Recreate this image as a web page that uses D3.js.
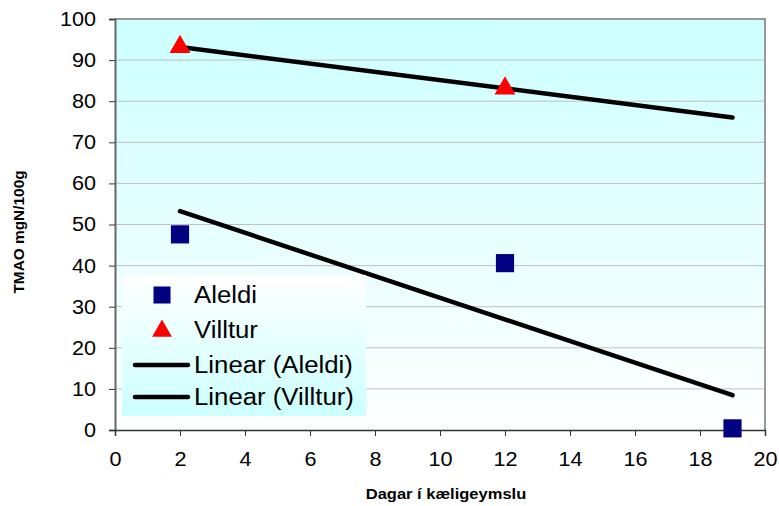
<!DOCTYPE html>
<html>
<head>
<meta charset="utf-8">
<script src="https://cdn.jsdelivr.net/npm/d3@7"></script>
<style>
  body { margin: 0; background: #fff; }
  svg { display: block; font-family: Arial, "Liberation Sans", sans-serif; }
</style>
</head>
<body>
<svg id="chart" width="779" height="506"></svg>
<script>
// series data
var aleldiDays = [2, 12, 19]
var aleldiValues = [47.6, 40.6, 0.4]
var villturDays = [2, 12]
var villturValues = [93.2, 83.1]
var xTicks = [0, 2, 4, 6, 8, 10, 12, 14, 16, 18, 20]
var yTicks = [0, 10, 20, 30, 40, 50, 60, 70, 80, 90, 100]
var legendNames = ['Aleldi', 'Villtur', 'Linear (Aleldi)', 'Linear (Villtur)']

var margin = { left: 115, right: 14, top: 19, bottom: 76 },
    width = 779 - margin.left - margin.right,
    height = 506 - margin.top - margin.bottom

var svg = d3.select('#chart')

// the source renders its Arial a bit wide, stretch text horizontally
function stretch(sel, k) {
    sel.each(function () {
        var len = this.getComputedTextLength()
        this.setAttribute('textLength', len * k)
        this.setAttribute('lengthAdjust', 'spacingAndGlyphs')
    })
}

var defs = svg.append('defs')
var plotGrad = defs.append('linearGradient').attr('id', 'plotGrad')
    .attr('x1', 0).attr('y1', 0).attr('x2', 0).attr('y2', 1)
plotGrad.append('stop').attr('offset', '0%').attr('stop-color', '#ccffff')
plotGrad.append('stop').attr('offset', '100%').attr('stop-color', '#ffffff')
var legGrad = defs.append('linearGradient').attr('id', 'legGrad')
    .attr('x1', 0).attr('y1', 0).attr('x2', 0).attr('y2', 1)
legGrad.append('stop').attr('offset', '0%').attr('stop-color', '#ffffff')
legGrad.append('stop').attr('offset', '100%').attr('stop-color', '#ccffff')

var g = svg.append('g')
    .attr('transform', 'translate(' + margin.left + ',' + margin.top + ')')

var xScale = d3.scaleLinear().domain([0, 20]).range([0, width])
var yScale = d3.scaleLinear().domain([0, 100]).range([height, 0])

// background
g.append('rect')
    .attr('width', width).attr('height', height)
    .attr('fill', 'url(#plotGrad)')

// gridlines
g.selectAll('.grid')
    .data(yTicks.filter(d => d > 0 && d < 100))
    .enter().append('line')
    .attr('class', 'grid')
    .attr('x1', 0).attr('x2', width)
    .attr('y1', d => yScale(d)).attr('y2', d => yScale(d))
    .attr('stroke', '#c0c0c0').attr('stroke-width', 1)

// frame top / right
g.append('path')
    .attr('d', 'M0,0H' + width + 'V' + height)
    .attr('fill', 'none').attr('stroke', '#999').attr('stroke-width', 2)

// axes
var yAxis = d3.axisLeft(yScale).tickValues(yTicks).tickSize(6).tickPadding(13)
var xAxis = d3.axisBottom(xScale).tickValues(xTicks).tickSize(6).tickPadding(16)

var gy = g.append('g').call(yAxis)
var gx = g.append('g').attr('transform', 'translate(0,' + height + ')').call(xAxis)

gy.select('.domain').attr('stroke', '#666').attr('stroke-width', 2)
gx.select('.domain').attr('stroke', '#333').attr('stroke-width', 1.5)
gy.selectAll('.tick line').attr('stroke', '#333')
gx.selectAll('.tick line').attr('stroke', '#333')
gy.selectAll('.tick text').attr('font-size', 20).attr('fill', '#000')
    .attr('font-family', 'Arial, "Liberation Sans", sans-serif')
gx.selectAll('.tick text').attr('font-size', 20).attr('fill', '#000')
    .attr('font-family', 'Arial, "Liberation Sans", sans-serif')
stretch(gy.selectAll('.tick text'), 1.08)
stretch(gx.selectAll('.tick text'), 1.08)

// linear trendlines (least squares)
function fit(xs, ys) {
    var mx = d3.mean(xs), my = d3.mean(ys)
    var sxy = d3.sum(xs, (x, i) => (x - mx) * (ys[i] - my))
    var sxx = d3.sum(xs, x => (x - mx) * (x - mx))
    var b = sxy / sxx
    return x => my + b * (x - mx)
}
var allDays = aleldiDays.concat(villturDays)
var x0 = d3.min(allDays), x1 = d3.max(allDays)
var fits = [fit(aleldiDays, aleldiValues), fit(villturDays, villturValues)]

var line = d3.line().x(d => xScale(d[0])).y(d => yScale(d[1]))
fits.forEach(function (f) {
    g.append('path')
        .datum([[x0, f(x0)], [x1, f(x1)]])
        .attr('d', line)
        .attr('fill', 'none').attr('stroke', '#000')
        .attr('stroke-width', 4.5).attr('stroke-linecap', 'round')
})

// markers
var square = d3.symbol().type(d3.symbolSquare).size(330)
var triangle = d3.symbol().type(d3.symbolTriangle).size(190)

g.selectAll('.aleldi')
    .data(aleldiDays.map((d, i) => [d, aleldiValues[i]]))
    .enter().append('path')
    .attr('class', 'aleldi')
    .attr('d', square)
    .attr('transform', d => 'translate(' + xScale(d[0]) + ',' + yScale(d[1]) + ')')
    .attr('fill', '#000080')

g.selectAll('.villtur')
    .data(villturDays.map((d, i) => [d, villturValues[i]]))
    .enter().append('path')
    .attr('class', 'villtur')
    .attr('d', triangle)
    .attr('transform', d => 'translate(' + xScale(d[0]) + ',' + yScale(d[1]) + ')')
    .attr('fill', '#ff0000')

// legend
var legend = svg.append('g').attr('transform', 'translate(122,275)')
legend.append('rect')
    .attr('width', 244).attr('height', 141)
    .attr('fill', 'url(#legGrad)')

var rows = legend.selectAll('.row')
    .data(legendNames)
    .enter().append('g')
    .attr('transform', (d, i) => 'translate(0,' + [20, 55, 90, 122][i] + ')')

rows.each(function (d, i) {
    var r = d3.select(this)
    if (i == 0) {
        r.append('path').attr('d', d3.symbol().type(d3.symbolSquare).size(290))
            .attr('transform', 'translate(40,0)').attr('fill', '#000080')
    } else if (i == 1) {
        r.append('path').attr('d', d3.symbol().type(d3.symbolTriangle).size(170))
            .attr('transform', 'translate(40,1)').attr('fill', '#ff0000')
    } else {
        r.append('line').attr('x1', 13).attr('x2', 66).attr('y1', 0).attr('y2', 0)
            .attr('stroke', '#000').attr('stroke-width', 4.5).attr('stroke-linecap', 'round')
    }
    r.append('text').attr('x', 72).attr('y', 8)
        .attr('font-size', 23).text(d)
})
stretch(rows.selectAll('text'), 1.12)

// axis titles
var yTitle = svg.append('text')
    .attr('transform', 'translate(24,232) rotate(-90)')
    .attr('text-anchor', 'middle')
    .attr('font-size', 14).attr('font-weight', 'bold')
    .text('TMAO mgN/100g')

var xTitle = svg.append('text')
    .attr('x', 446).attr('y', 499)
    .attr('text-anchor', 'middle')
    .attr('font-size', 15).attr('font-weight', 'bold')
    .text('Dagar í kæligeymslu')
stretch(yTitle, 1.1)
stretch(xTitle, 1.1)
</script>
</body>
</html>
